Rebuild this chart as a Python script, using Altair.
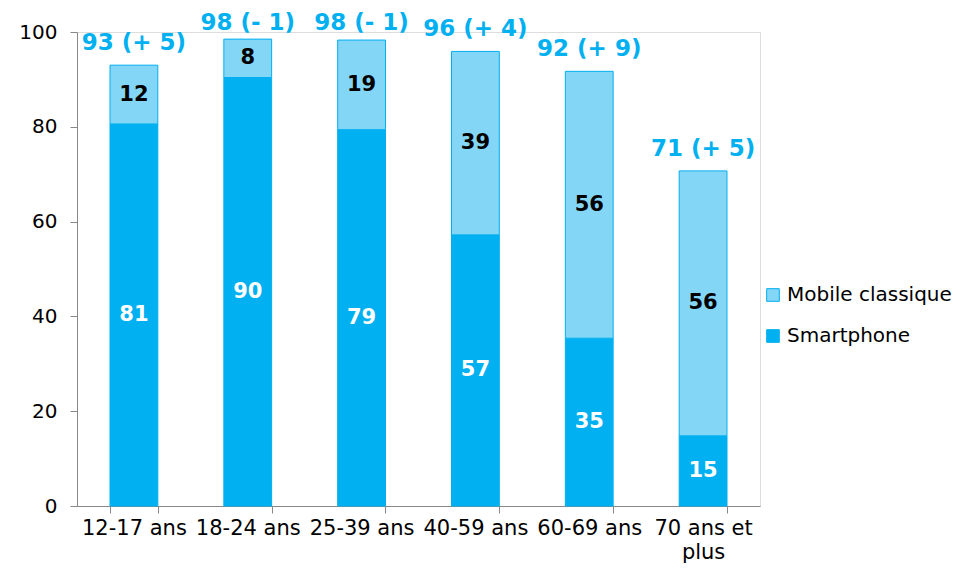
import altair as alt
import pandas as pd

categories = ["12-17 ans", "18-24 ans", "25-39 ans", "40-59 ans", "60-69 ans", "70 ans et plus"]
smartphone = [80.6, 90.4, 79.4, 57.2, 35.4, 14.8]
mobile_classique = [12.4, 8.1, 18.9, 38.7, 56.3, 55.9]
totals = [93, 98, 98, 96, 92, 71]
evolution = ["+ 5", "- 1", "- 1", "+ 4", "+ 9", "+ 5"]

FONT = "DejaVu Sans"
BLUE = "#00B0F0"
LIGHT = "#84D6F6"

rows = []
for c, s, m in zip(categories, smartphone, mobile_classique):
    rows.append({"category": c, "series": "Smartphone", "value": s, "order": 0})
    rows.append({"category": c, "series": "Mobile classique", "value": m, "order": 1})
df = pd.DataFrame(rows)

tot = pd.DataFrame({
    "category": categories,
    "total": [s + m for s, m in zip(smartphone, mobile_classique)],
    "label": [f"{t} ({e})" for t, e in zip(totals, evolution)],
})

xenc = alt.X(
    "category:N",
    sort=categories,
    title=None,
    scale=alt.Scale(paddingInner=0.58, paddingOuter=0.29),
    axis=alt.Axis(
        labelAngle=0,
        labelFontSize=21,
        labelFont=FONT,
        labelColor="#000000",
        labelPadding=4,
        labelLineHeight=24,
        tickSize=7,
        tickBand="extent",
        domainColor="#888888",
        tickColor="#888888",
        labelExpr="datum.label == '70 ans et plus' ? ['70 ans et', 'plus'] : datum.label",
    ),
)

base = alt.Chart(df).transform_stack(
    stack="value",
    as_=["y0", "y1"],
    groupby=["category"],
    sort=[alt.SortField("order", order="ascending")],
).transform_calculate(mid="(datum.y0 + datum.y1) / 2")

yscale = alt.Scale(domain=[0, 100], nice=False)

bars = base.mark_bar(stroke=BLUE, strokeWidth=1).encode(
    x=xenc,
    y=alt.Y(
        "y0:Q",
        scale=yscale,
        title=None,
        axis=alt.Axis(
            values=[0, 20, 40, 60, 80, 100],
            grid=False,
            labelFontSize=20,
            labelFont=FONT,
            labelColor="#000000",
            labelPadding=13,
            tickSize=7,
            domainColor="#888888",
            tickColor="#888888",
        ),
    ),
    y2="y1:Q",
    color=alt.Color(
        "series:N",
        scale=alt.Scale(domain=["Mobile classique", "Smartphone"], range=[LIGHT, BLUE]),
        legend=alt.Legend(
            title=None,
            orient="none",
            legendX=686,
            legendY=253,
            labelFontSize=20,
            labelFont=FONT,
            labelColor="#000000",
            labelLimit=400,
            symbolType="square",
            symbolSize=160,
            symbolStrokeColor=BLUE,
            symbolStrokeWidth=1,
            rowPadding=21,
            labelOffset=4,
        ),
    ),
)

inner = base.mark_text(font=FONT, fontSize=21, fontWeight="bold", baseline="middle").encode(
    x=alt.X("category:N", sort=categories),
    y=alt.Y("mid:Q", scale=yscale),
    text=alt.Text("value:Q", format=".0f"),
    color=alt.condition(alt.datum.series == "Smartphone", alt.value("#FFFFFF"), alt.value("#000000")),
)

top = alt.Chart(tot).transform_calculate(
    ly="min(datum.total, 97.3)"
).mark_text(
    font=FONT, fontSize=23, fontWeight="bold", baseline="middle", dy=-22, color=BLUE
).encode(
    x=alt.X("category:N", sort=categories),
    y=alt.Y("ly:Q", scale=yscale),
    text="label:N",
)

chart = alt.layer(bars, inner, top).properties(
    width=683,
    height=474,
    autosize=alt.AutoSizeParams(type="none"),
    padding={"left": 69, "top": 24, "right": 195, "bottom": 57},
).configure_view(stroke=None).configure(background="white")

chart.save("out.html", embed_options={"renderer": "svg", "actions": False})
